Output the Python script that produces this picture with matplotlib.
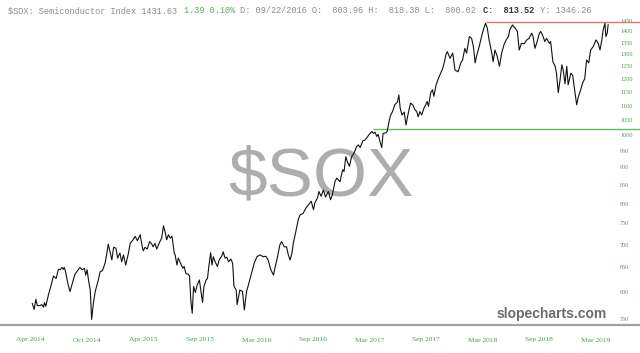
import matplotlib
matplotlib.use('Agg')
import matplotlib.pyplot as plt
from matplotlib.ticker import NullLocator

# trading-session number and closing value of $SOX
session = [5, 9, 13, 16, 22, 26, 30, 32, 35, 41, 47, 52, 58, 63, 67, 71, 74, 76, 79, 84,
           89, 93, 100, 108, 111, 116, 121, 124, 127, 130, 134, 137, 141, 145, 151, 156, 161, 167, 171, 174,
           178, 182, 186, 191, 195, 200, 204, 208, 213, 219, 223, 229, 234, 239, 245, 249, 252, 256, 261, 266,
           271, 274, 278, 282, 288, 293, 297, 301, 304, 308, 312, 316, 321, 323, 327, 330, 335, 340, 343, 347,
           352, 355, 358, 361, 364, 368, 372, 377, 380, 384, 387, 392, 395, 398, 402, 405, 408, 412, 417, 421,
           427, 430, 434, 438, 442, 447, 451, 454, 459, 461, 467, 473, 477, 482, 487, 494, 499, 505, 512, 519,
           525, 530, 536, 542, 545, 551, 556, 560, 566, 571, 575, 579, 583, 586, 591, 597, 601, 608, 614, 620,
           626, 631, 634, 640, 643, 648, 653, 658, 664, 669, 673, 679, 683, 690, 696, 699, 703, 706, 711, 716,
           721, 727, 731, 735, 741, 746, 750, 755, 761, 764, 768, 772, 775, 779, 783, 786, 792, 795, 800, 803,
           807, 812, 818, 821, 824, 828, 833, 837, 842, 847, 852, 857, 861, 864, 868, 872, 877, 881, 884, 887,
           892, 896, 899, 904, 909, 914, 919, 922, 926, 929, 935, 941, 946, 953, 959, 963, 968, 972, 978, 983,
           987, 991, 994, 1000, 1006, 1009, 1014, 1018, 1022, 1028, 1031, 1035, 1040, 1045, 1050, 1055, 1060, 1065, 1068, 1074,
           1080, 1085, 1089, 1094, 1100, 1106, 1111, 1117, 1120, 1124, 1129, 1134, 1137, 1141, 1146, 1150, 1156, 1159, 1164, 1169,
           1172, 1176, 1180, 1184, 1187, 1191, 1195, 1198, 1204, 1208, 1213, 1217, 1221, 1226, 1230, 1235, 1239, 1244, 1248, 1254,
           1260, 1265, 1269, 1273, 1276, 1280, 1282, 1285, 1287]
close = [578, 567, 586, 574, 574, 576, 571, 580, 573, 595, 614, 632, 627, 646, 645, 650, 646, 650, 641, 617,
         601, 614, 636, 646, 650, 645, 648, 634, 645, 624, 604, 549, 579, 601, 621, 641, 643, 659, 681, 701,
         684, 666, 694, 692, 670, 681, 662, 677, 655, 681, 703, 711, 719, 709, 723, 699, 686, 694, 690, 707,
         701, 695, 703, 690, 705, 715, 744, 728, 711, 723, 715, 719, 681, 677, 655, 670, 659, 648, 652, 637,
         636, 632, 582, 560, 611, 599, 614, 624, 604, 580, 611, 624, 627, 652, 682, 655, 673, 662, 652, 666,
         675, 684, 670, 672, 662, 668, 659, 611, 604, 576, 604, 601, 566, 601, 617, 641, 659, 673, 677, 673,
         674, 666, 645, 634, 648, 673, 699, 707, 695, 695, 677, 666, 681, 703, 727, 759, 771, 775, 788, 797,
         806, 784, 802, 815, 832, 819, 836, 817, 832, 810, 823, 860, 869, 859, 893, 888, 932, 918, 903, 932,
         942, 963, 968, 960, 981, 984, 991, 1002, 1011, 1005, 1009, 995, 1002, 979, 960, 1005, 1007, 1011, 1050, 1067,
         1079, 1103, 1113, 1139, 1091, 1067, 1077, 1033, 1073, 1109, 1103, 1085, 1079, 1061, 1079, 1067, 1091, 1103, 1115, 1097,
         1147, 1158, 1134, 1177, 1201, 1222, 1243, 1264, 1299, 1311, 1283, 1305, 1235, 1228, 1264, 1276, 1325, 1305, 1377, 1369,
         1333, 1264, 1292, 1333, 1384, 1407, 1438, 1415, 1362, 1305, 1269, 1318, 1292, 1250, 1305, 1340, 1362, 1377, 1407, 1430,
         1415, 1400, 1318, 1347, 1345, 1362, 1369, 1392, 1377, 1325, 1355, 1392, 1400, 1384, 1355, 1369, 1347, 1355, 1269, 1250,
         1222, 1147, 1196, 1256, 1235, 1181, 1250, 1177, 1222, 1215, 1152, 1103, 1134, 1158, 1183, 1201, 1276, 1264, 1318, 1333,
         1362, 1347, 1318, 1362, 1407, 1438, 1377, 1392, 1431]

tick_sessions = [0, 126, 252, 378, 504, 630, 756, 882, 1008, 1134, 1260]
tick_labels = ['Apr 2014', 'Oct 2014', 'Apr 2015', 'Sep 2015', 'Mar 2016', 'Sep 2016',
               'Mar 2017', 'Sep 2017', 'Mar 2018', 'Sep 2018', 'Mar 2019']
price_ticks = list(range(550, 1451, 50))

resistance = 1444     # red line from the March 2018 high
support = 1020        # green line
resistance_start = 1014
support_start = 764

title_parts = [
    ('$SOX: Semiconductor Index 1431.63 ', '#8c8c8c', 'normal'),
    ('1.39 0.10%', '#5aa85a', 'normal'),
    (' D: 09/22/2016 O:  803.96 H:  818.38 L:  800.02 ', '#8c8c8c', 'normal'),
    ('C:  813.52', '#333333', 'bold'),
    (' Y: 1346.26', '#8c8c8c', 'normal'),
]

fig = plt.figure(figsize=(6.4, 3.53), dpi=100)
ax = fig.add_axes([0, 28/353., 1, 310/353.])

ax.set_yscale('log')
ax.set_xlim(-67, 1358)
ax.set_ylim(539, 1477)

ax.text(0.502, 0.419, '$SOX', transform=ax.transAxes, fontsize=50, family='Liberation Sans',
        color='#adadad', ha='center', va='baseline', zorder=0)

ax.plot(session, close, color='#111111', lw=0.8, zorder=3)
ax.hlines(resistance, resistance_start, 1358, color='#e57373', lw=1.0, zorder=2)
ax.hlines(support, support_start, 1358, color='#5cbf5c', lw=1.0, zorder=2)

for s in ['top', 'left', 'right']:
    ax.spines[s].set_visible(False)
ax.spines['bottom'].set_color('#a3a3a3')
ax.spines['bottom'].set_linewidth(1.6)

ax.set_xticks(tick_sessions)
ax.set_xticklabels(tick_labels, family='Liberation Serif', fontsize=5.4, color='#4f9a4f')
ax.tick_params(axis='x', length=0, pad=9)

ax.yaxis.tick_right()
ax.set_yticks(price_ticks)
ax.set_yticklabels([str(p) for p in price_ticks], family='Liberation Serif', fontsize=4.4, color='#4f9a4f')
ax.yaxis.set_minor_locator(NullLocator())
ax.tick_params(axis='y', which='both', length=0, pad=-14.4)

# header line in monospace, pieces placed by character count
fs = 6.2
cw = fs * 0.6 * 100 / 72.
idx = 0
for txt, col, wt in title_parts:
    fig.text((8 + idx*cw)/640., 1 - 13/353., txt, family='Liberation Mono', fontsize=fs,
             color=col, weight=wt, ha='left', va='baseline')
    idx += len(txt)

fig.text(607/640., 1 - 318/353., 'slopecharts.com', family='Liberation Sans', fontsize=10,
         weight='bold', color='#6b6b6b', ha='right', va='baseline')

fig.savefig('out.png', dpi=100)
